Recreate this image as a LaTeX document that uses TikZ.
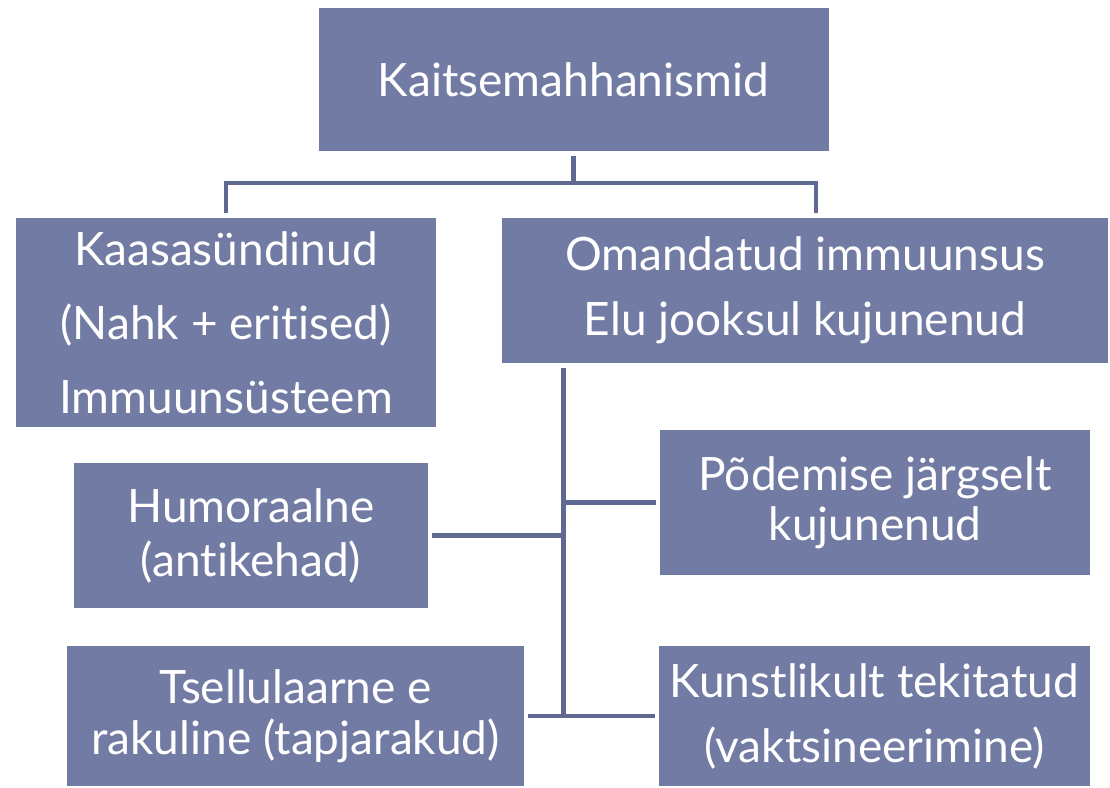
\documentclass[tikz,border=0pt]{standalone}
\usepackage{fontspec}
\setmainfont[Ligatures=NoCommon,RawFeature={-liga;-dlig}]{Lato}
\definecolor{boxfill}{RGB}{114,123,163}
\definecolor{linecol}{RGB}{96,105,145}
\tikzset{
  boxnode/.style={fill=boxfill, text=white, inner sep=0pt, align=center},
  conn/.style={draw=linecol, line width=4.5pt}
}
\begin{document}
\begin{tikzpicture}[x=1pt,y=-1pt]
\useasboundingbox (0,0) rectangle (1110,787);
\node[boxnode, minimum width=510pt, minimum height=143pt, font=\fontsize{46}{55}\selectfont] (top) at (573.5,79.5) {Kaitsemahhanismid};
\node[boxnode, minimum width=420pt, minimum height=209pt, font=\fontsize{46}{74}\selectfont] (kaas) at (226,322.5) {Kaasasündinud\\(Nahk + eritised)\\Immuunsüsteem};
\node[boxnode, minimum width=606pt, minimum height=145pt, font=\fontsize{46}{65}\selectfont] (oman) at (805,290.5) {Omandatud immuunsus\\Elu jooksul kujunenud};
\node[boxnode, minimum width=354pt, minimum height=145pt, font=\fontsize{46}{54}\selectfont] (humo) at (251,535.5) {Humoraalne\\(antikehad)};
\node[boxnode, minimum width=430pt, minimum height=145pt, font=\fontsize{46}{50}\selectfont] (pode) at (875,502.5) {Põdemise järgselt\\kujunenud};
\node[boxnode, minimum width=457pt, minimum height=140pt, font=\fontsize{46}{51}\selectfont] (tsell) at (295.5,716) {Tsellulaarne e\\rakuline (tapjarakud)};
\node[boxnode, minimum width=431pt, minimum height=140pt, font=\fontsize{46}{65}\selectfont] (kunst) at (874.5,716) {Kunstlikult tekitatud\\(vaktsineerimine)};
\coordinate (j) at (573.5,183);
\coordinate (jr) at (816,183);
\coordinate (b1) at (563.5,368);
\coordinate (b2) at (563.5,716);
\draw[conn] ([yshift=-5pt]top.south) -- (top.south |- j);
\draw[conn] ([yshift=5pt]kaas.north) -- (kaas.north |- j) -- (jr) -- ([yshift=5pt]oman.north -| jr);
\draw[conn] (b1) -- (b2);
\draw[conn] ([xshift=4pt]humo.east) -- (humo.east -| b1);
\draw[conn] ([xshift=-4pt]pode.west) -- (pode.west -| b1);
\draw[conn] ([xshift=4pt]tsell.east) -- ([xshift=-4pt]kunst.west);
\end{tikzpicture}
\end{document}
